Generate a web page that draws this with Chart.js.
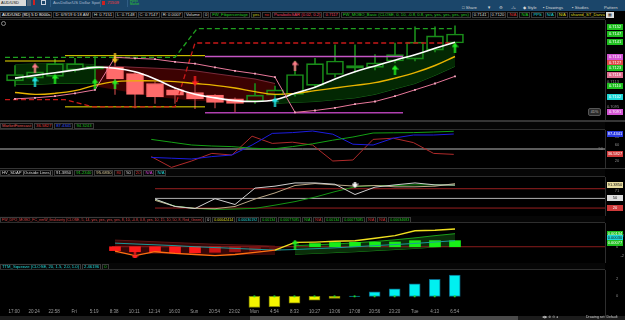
<!DOCTYPE html>
<html><head><meta charset="utf-8">
<script src="https://cdn.jsdelivr.net/npm/chart.js@4.4.1/dist/chart.umd.min.js"></script>
<style>
*{box-sizing:border-box}
html,body{margin:0;padding:0;background:#000;width:625px;height:320px;overflow:hidden;font-family:"Liberation Sans","DejaVu Sans",sans-serif;}
.a{position:absolute}
canvas{position:absolute;left:0}
.hd{position:absolute;left:0;width:605px;background:#060606;border-bottom:1px solid #2e2e2e;white-space:nowrap;overflow:hidden;font-size:4.2px;padding-top:1px;color:#ddd}
.hd span{display:inline-block;border:1px solid #3a3a3a;padding:0 1px;margin-right:1px;height:6px;line-height:4.6px;vertical-align:top}
.tb{position:absolute;font-size:4.2px;color:#d6d6d6;white-space:nowrap}
</style></head><body>

<!-- toolbar -->
<div class="a" style="left:0;top:0;width:625px;height:11px;background:#1b466a"></div>
<div class="a" style="left:0;top:0;width:26px;height:6px;background:#d9d9d9;color:#111;font-size:4px;line-height:6px;padding-left:1px">AUD/USD</div>
<div class="a" style="left:27px;top:0;width:4px;height:6px;background:#4f6377"></div>
<div class="a" style="left:33px;top:0;width:2px;height:5px;background:#d02020"></div>
<div class="a" style="left:41px;top:0;width:5px;height:5px;border:1px solid #c8d0dc"></div>
<div class="a" style="left:50px;top:0;width:1px;height:7px;background:#2f5d85"></div>
<div class="tb" style="left:53px;top:0;line-height:6px;color:#a8bccf">AusDollar/US Dollar Spot</div>
<div class="a" style="left:100px;top:0;width:1px;height:7px;background:#2f5d85"></div>
<div class="a" style="left:102px;top:1px;width:3px;height:4px;background:#d02020"></div>
<div class="tb" style="left:106px;top:0;line-height:6px;color:#ff3a3a">.71509</div>
<div class="a" style="left:127px;top:0;width:1px;height:7px;background:#2f5d85"></div>
<div class="tb" style="left:130px;top:0;font-size:3px;line-height:3px;color:#30d030">Forex<br>Market</div>
<div class="tb" style="left:462px;top:5px;line-height:5px">&#9633; Share</div>
<div class="tb" style="left:487px;top:5px;line-height:5px">&#9660;</div>
<div class="tb" style="left:499px;top:5px;line-height:5px">&#9881;</div>
<div class="tb" style="left:511px;top:5px;line-height:5px">-/+</div>
<div class="tb" style="left:523px;top:5px;line-height:5px">&#9670; Style</div>
<div class="tb" style="left:543px;top:5px;line-height:5px">&#9642; Drawings</div>
<div class="tb" style="left:572px;top:5px;line-height:5px">&#9642; Studies</div>
<div class="tb" style="left:604px;top:5px;line-height:5px">Pattern</div>

<!-- main header -->
<div class="hd" style="top:11px;height:9px">
<span style="color:#fff">AUD/USD (8D) 5 D 8000s</span><span>D: 6/9/19 6:18 AM</span><span>H: 0.7151</span><span>L: 0.7148</span><span>C: 0.7147</span><span>R: 0.0007</span><span>Volume</span><span>0</span><span style="color:#22cc22">FW_Fibpercentage</span><span style="color:#cccc22">yes</span><span style="color:#dd3333">no</span><span style="color:#ee4466">ParabolicSAR (0.02, 0.2)</span><span style="color:#ee4466">0.7117</span><span style="color:#22cc22">FW_MOBO_Basic (CLOSE, 0, 10, -0.8, 0.8, yes, yes, yes, yes, yes)</span><span>0.7141</span><span>0.7120</span><span style="color:#dd3333">N/A</span><span style="color:#22cc22">N/A</span><span style="color:#22dddd">PPS</span><span style="color:#22dddd">N/A</span><span style="color:#dddd22">N/A</span><span style="color:#dddd22">shared_ST_DarvasBox (yes)</span><span style="color:#22dddd">N/A</span><span style="color:#ee66aa">N/A</span><span style="color:#22cc22">N/A</span><span style="color:#dd3333">N/A</span><span style="color:#ee66aa">N/A</span><span style="color:#22cc22">N/A</span><span>...</span>
</div>
<div class="a" style="left:606px;top:12px;width:8px;height:6px;background:#dcdcdc;color:#111;font-size:4px;line-height:6px;text-align:center">&#9638;</div>

<canvas id="cMain"></canvas>
<div class="a" style="left:1px;top:21px;width:5px;height:5px;border:1px solid #888;border-radius:50%"></div>
<div class="a" style="left:588px;top:108px;width:13px;height:8px;background:#2a2a2a;border:1px solid #555;border-radius:2px;color:#bbb;font-size:3.5px;line-height:6px;text-align:center">4D%</div>

<div class="a" style="left:0;top:120px;width:625px;height:2px;background:#353535"></div>
<div class="hd" style="top:122px;height:8px">
<span style="color:#e05858">MarketForecast</span><span style="color:#e04040">36.5827</span><span style="color:#3b55ff">87.4341</span><span style="color:#22c022">94.3243</span>
</div>
<canvas id="cMF"></canvas>

<div class="a" style="left:0;top:168px;width:625px;height:1px;background:#353535"></div>
<div class="hd" style="top:169px;height:8px">
<span>HV_SDAP (Outside Lines)</span><span>91.3850</span><span style="color:#22cc22">91.2340</span><span style="color:#e0d0a0">95.6830</span><span style="color:#dd3333">80</span><span>50</span><span style="color:#dd3333">20</span><span style="color:#dd44dd">N/A</span><span style="color:#22dddd">N/A</span>
</div>
<canvas id="cHV"></canvas>

<div class="hd" style="top:216px;height:7px;font-size:3.6px">
<span style="color:#dd4444">FW_DPO_MOBO_FC_nmW_finaIounty (CLOSE, 5, 14, yes, yes, yes, yes, 8, 10, -0.8, 0.8, yes, 10, 15, 10, 50, 8, Red_Green)</span><span>0</span><span style="color:#dddd22">0.00042414</span><span style="color:#22dddd">0.00030192</span><span style="color:#22cc22">0.00134</span><span style="color:#22cc22">0.00077085</span><span style="color:#22cc22">N/A</span><span style="color:#dd3333">N/A</span><span style="color:#22cc22">0.00134</span><span style="color:#22cc22">0.00077085</span><span style="color:#dd3333">N/A</span><span style="color:#dd3333">N/A</span><span style="color:#22cc22">0.00034683</span>
</div>
<canvas id="cDPO"></canvas>

<div class="hd" style="top:263px;height:7px">
<span style="color:#22dddd">TTM_Squeeze (CLOSE, 20, 1.5, 2.0, 1.0)</span><span style="color:#22dddd">2.46196</span><span style="color:#22cc22">0</span>
</div>
<canvas id="cTTM"></canvas>

<div class="a" style="left:0;top:316px;width:625px;height:4px;background:#1c1c1c"></div>
<div class="a" style="left:250px;top:316px;width:268px;height:4px;background:#4a4a4a"></div>
<div class="tb" style="left:542px;top:315px;font-size:3.5px;line-height:5px;color:#bbb">&#9664;&#9654; &#8853; &#8854; &#9679;</div>
<div class="tb" style="left:586px;top:315px;font-size:3.5px;line-height:5px;color:#ccc">Drawing set: Default</div>

<script>
// ---------- data ----------
const timeLabels = ['17:00','20:24','22:58','Fri','5:19','8:38','10:11','12:14','16:03','Sun','20:54','23:02','Mon','4:54','8:33','10:27','13:06','17:08','20:56','23:20','Tue','4:13','6:54'];

const openP  = [0.71137,0.71156,0.71169,0.71214,0.71220,0.71233,0.71188,0.71118,0.71073,0.71054,0.71035,0.71009,0.70990,0.71035,0.71041,0.71105,0.71182,0.71227,0.71233,0.71278,0.71291,0.71355,0.71406];
const closeP = [0.71182,0.71201,0.71259,0.71259,0.71240,0.71150,0.71041,0.71022,0.71035,0.71009,0.70984,0.70977,0.71035,0.71073,0.71182,0.71259,0.71278,0.71246,0.71265,0.71323,0.71412,0.71457,0.71470];
const highP  = [0.71246,0.71227,0.71291,0.71297,0.71310,0.71310,0.71201,0.71131,0.71086,0.71118,0.71041,0.71016,0.71118,0.71099,0.71278,0.71297,0.71393,0.71393,0.71323,0.71406,0.71521,0.71521,0.71528];
const lowP   = [0.71099,0.71137,0.71150,0.71201,0.71118,0.71041,0.70945,0.70977,0.70977,0.70939,0.70945,0.70913,0.70977,0.71022,0.71028,0.71092,0.71163,0.71201,0.71214,0.71265,0.71278,0.71342,0.71400];

const maFast  = [0.71156,0.71176,0.71195,0.71214,0.71233,0.71227,0.71201,0.71150,0.71086,0.71041,0.71016,0.70996,0.70990,0.71003,0.71048,0.71092,0.71150,0.71201,0.71243,0.71284,0.71323,0.71368,0.71412];
const maSlow  = [0.71054,0.71041,0.71048,0.71067,0.71105,0.71131,0.71137,0.71137,0.71131,0.71118,0.71105,0.71086,0.71060,0.71041,0.71048,0.71067,0.71086,0.71105,0.71124,0.71156,0.71195,0.71246,0.71310];
const sarDots = [0.71009,0.71016,0.71028,0.71048,0.71073,0.71304,0.71297,0.71291,0.71272,0.71259,0.71233,0.71208,0.71188,0.71163,0.70913,0.70926,0.70945,0.70971,0.70990,0.71028,0.71073,0.71118,0.71169];

const bullCloudLStart = 0;
const bullCloudLTop = [0.71252,0.71259,0.71259,0.71259,0.71252];
const bullCloudLBot = [0.71112,0.71112,0.71118,0.71118,0.71118];
const bearCloudStart = 4;
const bearCloudTop = [0.71240,0.71240,0.71233,0.71227,0.71220,0.71208,0.71188,0.71169,0.71150,0.71118];
const bearCloudBot = [0.71099,0.71073,0.71048,0.71022,0.71009,0.70996,0.70990,0.70984,0.70984,0.70996];
const bullCloudRStart = 13;
const bullCloudRTop = [0.71003,0.71048,0.71092,0.71150,0.71201,0.71243,0.71284,0.71323,0.71368,0.71412];
const bullCloudRBot = [0.70977,0.70984,0.70990,0.71003,0.71016,0.71041,0.71080,0.71118,0.71176,0.71240];

const greenDash = [[-0.5,0.71304],[8.0,0.71304],[9.1,0.71508],[22.0,0.71508]];
const redDash   = [[-0.5,0.71003],[2.5,0.71003],[3.9,0.70952],[8.0,0.70952],[9.0,0.71406],[22.0,0.71406]];
const yellowLvlA = [[-0.5,0.71278],[2.5,0.71278]];
const yellowLvlB = [[2.5,0.71316],[9.5,0.71316]];
const yellowLvlC = [[2.5,0.70952],[9.5,0.70952]];
const magentaHi  = [[9.5,0.71310],[19.4,0.71310]];
const magentaLo  = [[9.5,0.70910],[19.4,0.70910]];

const sigCyanUp    = [[1,0.71131],[13,0.70984]];
const sigGreenUp   = [[2,0.71150],[4,0.71118],[5,0.71112],[19,0.71214],[22,0.71374]];
const sigPinkUp    = [[1,0.71227],[14,0.71246]];
const sigYellowDn  = [[5,0.71297]];
const sigRedDn     = [[9,0.71137]];

const priceBoxes = [0.71521,0.71470,0.71412,0.71310,0.71265,0.71227,0.71176,0.71099,0.71022,0.70913];
const priceTicks = [0.7113,0.7095];

// MarketForecast (from bar 7)
const mfStart = 7;
const mfRed   = [31,4,20,39,35,82,64,67,60,20,22.5,74,77,66,39,36.58];
const mfBlue  = [29,27,25,31,35,60,89,91,95,87,62,60,77,85,85,87.43];
const mfGreen = [74,67,60,57.5,56,52,50,56,63,72,80,90,90.5,91,92.5,94.32];

// HV_SDAP (from bar 7)
const hvStart = 7;
const hvGrey  = [48,25,18.5,49,31,82,88,98,98,94,62,85,92,98,92,91.39];
const hvTan   = [44,25,19,18,25,48,67,90,96,92,88,90,86,86,88,95.68];
const hvGreen = [46,26,19,15.5,17,19,29,40,54,71,86,90,90,92,92,91.23];
const hvLevels = [80,50,20];

// DPO MOBO (from bar 5)
const dpoStart = 5;
const dpoSignal = [-0.8,-1.6,-0.9,-1.2,-1.4,-1.6,-1.4,-1.0,-0.6,0.77,0.85,0.99,1.08,1.53,1.99,2.88,2.97,3.2];
const dpoTeal   = [0.65,0.5,0.35,0.2,0.0,-0.15,-0.3,-0.45,-0.6,-0.5,-0.35,-0.2,0.0,0.2,0.4,0.6,0.85,1.1];
const dpoHist   = [-0.7,-0.9,-0.9,-1.1,-1.1,-1.0,-0.9,-0.8,-0.6,null,0.58,0.77,0.8,0.82,0.86,1.1,1.1,1.1];
const dpoBearStart = 5;
const dpoBearTop = [1.2,1.05,0.9,0.75,0.6,0.45,0.35,0.25,0.1];
const dpoBearBot = [-1.1,-1.15,-1.2,-1.25,-1.3,-1.3,-1.35,-1.35,-1.35];
const dpoBullStart = 14;
const dpoBullTop = [0.2,0.35,0.5,0.7,0.95,1.25,1.6,2.0,2.35];
const dpoBullBot = [-1.35,-1.2,-1.05,-0.9,-0.7,-0.5,-0.3,-0.05,0.2];
const dpoArrowDn = [[6,-1.49]];
const dpoArrowUp = [[14,0.4]];

// TTM squeeze (from bar 12)
const ttmStart = 12;
const ttmMom = [-1.27,-1.21,-0.8,-0.45,-0.24,0.03,0.52,0.86,1.45,1.97,2.46];
const ttmDots = [0,0,0,0,0,0,0,0,0,0,0];

// ---------- helpers ----------
const pts = (arr, start=0) => arr.map((y,i)=>({x:start+i, y})).filter(p=>p.y!==null);
const pairs = arr => arr.map(([x,y])=>({x,y}));
const L = (data, color, extra={}) => Object.assign({type:'line', data, borderColor:color, backgroundColor:color, borderWidth:1, pointRadius:0, fill:false, tension:0}, extra);

function arrowImg(color, up){
  const c=document.createElement('canvas'); c.width=7; c.height=10;
  const g=c.getContext('2d'); g.fillStyle=color;
  g.beginPath();
  if(up){ g.moveTo(3.5,0); g.lineTo(7,4.5); g.lineTo(0,4.5); g.closePath(); g.fill(); g.fillRect(2.5,4,2,6); }
  else  { g.moveTo(3.5,10); g.lineTo(7,5.5); g.lineTo(0,5.5); g.closePath(); g.fill(); g.fillRect(2.5,0,2,6); }
  return c;
}
const sig = (data, color, up) => ({type:'line', data:pairs(data), showLine:false, pointStyle:arrowImg(color,up), pointRadius:4, borderColor:color, backgroundColor:color});

function decor(boxes, ticks, extra){
  return { id:'decor', afterDraw(chart){
    const ctx=chart.ctx, ys=chart.scales.y;
    ctx.save();
    ctx.fillStyle='#000'; ctx.fillRect(606,0,19,chart.height);
    ctx.fillStyle='#2e2e2e'; ctx.fillRect(605,0,1,chart.height);
    ctx.font='4px "Liberation Sans"'; ctx.textBaseline='middle';
    ticks.forEach(t=>{ const y=ys.getPixelForValue(t.v); ctx.fillStyle='#8c8c8c'; ctx.textAlign=t.align||'left'; ctx.fillText(t.t, t.x||607, y); });
    boxes.forEach(b=>{ const y=Math.round(ys.getPixelForValue(b.v)); ctx.fillStyle=b.bg; ctx.fillRect(607,y-3,16,6); ctx.fillStyle=b.fg||'#fff'; ctx.textAlign='center'; ctx.fillText(b.t,615,y+0.3); });
    if(extra) extra(chart, ctx);
    ctx.restore();
  }};
}

function mk(id, top, height, datasets, yMin, yMax, plugin, xOpts){
  const cv=document.getElementById(id);
  cv.style.top=top+'px'; cv.width=625; cv.height=height;
  return new Chart(cv, {
    type:'line',
    data:{datasets},
    options:{
      responsive:false, animation:false, devicePixelRatio:1, events:[],
      layout:{padding:{left:0,right:20,top:0,bottom:0}},
      plugins:{legend:{display:false}, tooltip:{enabled:false}},
      scales:{
        x: Object.assign({type:'linear', min:-0.5, max:29.5, offset:false, display:false, grid:{offset:false}}, xOpts||{}),
        y: {type:'linear', min:yMin, max:yMax, display:false}
      }
    },
    plugins:[plugin]
  });
}

// ---------- main price panel ----------
const isBull = openP.map((o,i)=>closeP[i]>=o);
const bodyData = openP.map((o,i)=>({x:i, y:[o, closeP[i]]}));
const wickHi = openP.map((o,i)=>({x:i, y:[Math.max(o,closeP[i]), highP[i]]}));
const wickLo = openP.map((o,i)=>({x:i, y:[lowP[i], Math.min(o,closeP[i])]}));
const wickCol = isBull.map(b=>b?'#1a8a1a':'#8a3232');

const mainSets = [
  sig(sigCyanUp,'#22e8e8',true),
  sig(sigGreenUp,'#22ee22',true),
  sig(sigPinkUp,'#ff7a8a',true),
  sig(sigYellowDn,'#f0c020',false),
  sig(sigRedDn,'#ff2020',false),
  L(pts(sarDots), '#e8789a', {pointRadius:1.3, pointStyle:'rect', pointBackgroundColor:'#f4a8c0', pointBorderWidth:0}),
  L(pts(maFast), '#ffffff', {borderWidth:1.6, tension:0.4}),
  L(pts(maSlow), '#e8b400', {borderWidth:1.4, tension:0.4}),
  L(pairs(greenDash), '#1fa01f', {borderWidth:1.3, borderDash:[5,3]}),
  L(pairs(redDash), '#c81818', {borderWidth:1.3, borderDash:[5,3]}),
  L(pairs(yellowLvlA), '#f0e000'),
  L(pairs(yellowLvlB), '#f0e000'),
  L(pairs(yellowLvlC), '#f0e000'),
  L(pairs(magentaHi), '#c455c4', {borderWidth:1.3}),
  L(pairs(magentaLo), '#b040b0', {borderWidth:1.3}),
  {type:'bar', data:bodyData, grouped:false, barThickness:17, borderWidth:1, borderSkipped:false,
   backgroundColor:isBull.map(b=>b?'rgba(0,0,0,0)':'#ff6b6b'), borderColor:isBull.map(b=>b?'#198c19':'#ff6b6b')},
  {type:'bar', data:wickHi, grouped:false, barThickness:1, borderWidth:0, backgroundColor:wickCol},
  {type:'bar', data:wickLo, grouped:false, barThickness:1, borderWidth:0, backgroundColor:wickCol},
  L(pts(bearCloudTop,bearCloudStart), '#7a2a3a', {fill:'+1', backgroundColor:'#3c0202'}),
  L(pts(bearCloudBot,bearCloudStart), 'rgba(0,0,0,0)'),
  L(pts(bullCloudLTop,bullCloudLStart), '#0b3a0b', {fill:'+1', backgroundColor:'#022802'}),
  L(pts(bullCloudLBot,bullCloudLStart), '#1a7a1a'),
  L(pts(bullCloudRTop,bullCloudRStart), 'rgba(0,0,0,0)', {fill:'+1', backgroundColor:'#032803'}),
  L(pts(bullCloudRBot,bullCloudRStart), '#1a6a1a')
];
const boxCols = ['#1fbf1f','#1fbf1f','#1fbf1f','#d455d4','#e04848','#1fbf1f','#e07090','#1fbf1f','#1fd8d8','#d455d4'];
mk('cMain', 20, 100, mainSets, 0.70894, 0.71534,
   decor(priceBoxes.map((v,i)=>({v, t:v.toFixed(4), bg:boxCols[i]})), priceTicks.map(v=>({v, t:v.toFixed(4)}))));

// ---------- MarketForecast ----------
mk('cMF', 130, 38, [
  L(pts(mfGreen,mfStart), '#14a014'),
  L(pts(mfBlue,mfStart), '#1c1ce0'),
  L(pts(mfRed,mfStart), '#b02a2a'),
  L([{x:-0.5,y:50},{x:29.5,y:50}], '#b8b8b8')
], 2.5, 97.5, decor(
  [{v:87.43,t:'87.4341',bg:'#2a3ae0'},{v:36.58,t:'36.5827',bg:'#d03a3a'}],
  [{v:80,t:'80',x:617,align:'center'},{v:60,t:'60',x:617,align:'center'},{v:20,t:'20',x:617,align:'center'},{v:50,t:'50',x:603,align:'right'}]));

// ---------- HV_SDAP ----------
mk('cHV', 177, 39, [
  sig([[17,97]],'#ffffff',false),
  L(pts(hvGrey,hvStart), '#cfcfcf'),
  L(pts(hvTan,hvStart), '#bba988'),
  L(pts(hvGreen,hvStart), '#149414'),
  L([{x:7,y:hvLevels[0]},{x:29.5,y:hvLevels[0]}], '#9a2020'),
  L([{x:7,y:hvLevels[1]},{x:29.5,y:hvLevels[1]}], '#b0b0b0'),
  L([{x:7,y:hvLevels[2]},{x:29.5,y:hvLevels[2]}], '#9a2020')
], 10.85, 100.9, decor(
  [{v:91.39,t:'91.3850',bg:'#e8dca0',fg:'#111'},{v:50,t:'50',bg:'#dddddd',fg:'#111'},{v:20,t:'20',bg:'#d03a3a'}],
  [{v:73,t:'71',x:617,align:'center'}]));

// ---------- DPO MOBO ----------
const histCols = ['#ff1a1a','#ff1a1a','#ff1a1a','#ff1a1a','#ff1a1a','#cc1414','#a01212','#7a1010','#5a0e0e',null,'#18ee18','#18ee18','#18ee18','#18ee18','#18ee18','#18ee18','#18ee18','#18ee18'];
mk('cDPO', 223, 40, [
  sig(dpoArrowDn,'#ff2020',false),
  sig(dpoArrowUp,'#22ee22',true),
  L(pts(dpoSignal,dpoStart), '#ffd000', {borderWidth:1.3, segment:{borderColor:c=>c.p0.parsed.x<13?'#ff7010':'#f0e020'}}),
  L(pts(dpoTeal,dpoStart), '#1a9a9a'),
  {type:'bar', data:pts(dpoHist,dpoStart).map(p=>({x:p.x,y:[0,p.y]})), grouped:false, barThickness:11, borderWidth:0,
   backgroundColor:pts(dpoHist,dpoStart).map(p=>histCols[p.x-dpoStart])},
  L([{x:4.85,y:0},{x:29.5,y:0}], '#8a1c1c'),
  L(pts(dpoBullTop,dpoBullStart), '#1aa01a', {fill:'+1', backgroundColor:'#0a2e0a'}),
  L(pts(dpoBullBot,dpoBullStart), '#1a8a1a'),
  L(pts(dpoBearTop,dpoBearStart), '#5a1616', {fill:'+1', backgroundColor:'#380606'}),
  L(pts(dpoBearBot,dpoBearStart), '#4a1010')
], -2.03, 3.38, decor(
  [{v:2.35,t:'0.00134',bg:'#1fbf1f'},{v:1.62,t:'0.00030',bg:'#1fd8d8',fg:'#111'},{v:0.68,t:'0.00077',bg:'#1fbf1f'}],
  [{v:2,t:'2',x:624,align:'right'},{v:0,t:'0',x:617,align:'center'},{v:-1.6,t:'-2',x:624,align:'right'}]));

// ---------- TTM Squeeze ----------
mk('cTTM', 270, 46, [
  L(pts(ttmDots,ttmStart), '#22dd22', {showLine:false, pointRadius:1.3, pointStyle:'rect', pointBorderWidth:0}),
  {type:'bar', data:pts(ttmMom,ttmStart).map(p=>({x:p.x,y:[0,p.y]})), grouped:false, barThickness:11, borderWidth:1, borderSkipped:false,
   backgroundColor:ttmMom.map(v=>v<0?'#f5f500':'#00f0f0'), borderColor:ttmMom.map(v=>v<0?'#8a8a00':'#0a6a8a')}
], -1.35, 2.59, decor([], [{v:2,t:'2',x:617,align:'center'},{v:0,t:'0',x:617,align:'center'}]), {
  display:true, grid:{display:false, drawTicks:false, offset:false}, border:{display:false},
  afterBuildTicks: s => { s.ticks = timeLabels.map((_,i)=>({value:i})); },
  afterFit: s => { s.height = 8; s.paddingLeft = 0; s.paddingRight = 0; },
  ticks:{autoSkip:false, maxRotation:0, minRotation:0, padding:1, color:'#9a9a9a', font:{size:4.5, family:'Liberation Sans'}, callback: v => timeLabels[v] ?? ''}
});
</script>
</body></html>
